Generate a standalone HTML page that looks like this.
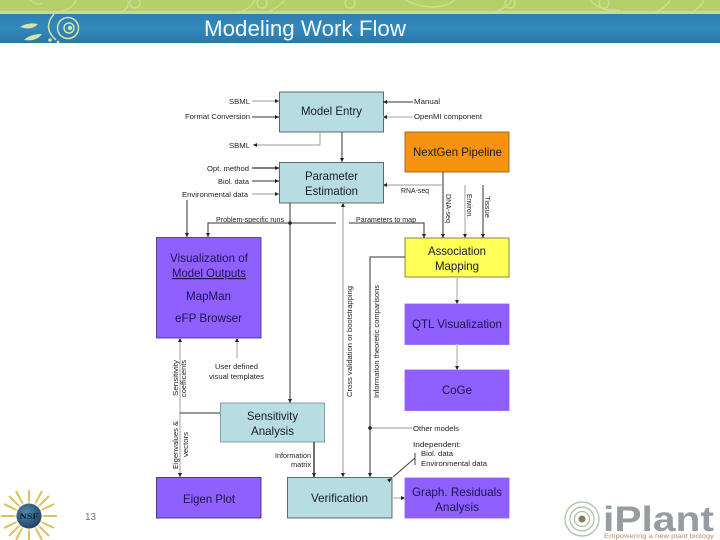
<!DOCTYPE html>
<html><head><meta charset="utf-8"><style>
html,body{margin:0;padding:0;background:#fff;width:720px;height:540px;overflow:hidden}
svg{display:block}
text{font-family:"Liberation Sans",sans-serif}
.l{font-size:7.5px;fill:#222}
.b{font-size:12px;fill:#1a1a2a}
.p{font-size:12px;fill:#1a1450}
.soft{filter:blur(.35px)}
</style></head><body>
<svg width="720" height="540" viewBox="0 0 720 540" xmlns="http://www.w3.org/2000/svg">
<defs>
<linearGradient id="bl" x1="0" y1="0" x2="0" y2="1"><stop offset="0" stop-color="#2f7fb2"/><stop offset="0.5" stop-color="#3288bc"/><stop offset="1" stop-color="#2a77a8"/></linearGradient>
<radialGradient id="gl" cx="0.4" cy="0.35" r="0.7"><stop offset="0" stop-color="#4f8bb0"/><stop offset="1" stop-color="#1d3f60"/></radialGradient>
</defs>
<rect width="720" height="13" fill="#b4d068"/>
<rect y="11" width="720" height="3" fill="#c6de8a"/>
<rect y="14" width="720" height="29" fill="url(#bl)"/>
<g fill="none" stroke="#cfe29a" stroke-width="1.4" opacity=".8">
<path d="M30 0q8 6 12 3M52 13q20-2 24-13M128 0q2 9-8 12M235 13q14-2 20-13M285 0q-10 10-18 12M405 0q30 14 50 0M490 13q15-3 22-13M590 0q10 12 30 10M650 13q14-2 20-13M690 13q10-4 14-13"/>
<circle cx="135" cy="3" r="5"/><circle cx="262" cy="3" r="5"/><circle cx="350" cy="3" r="5"/><circle cx="510" cy="3" r="5"/><circle cx="604" cy="3" r="5"/>
</g>
<g fill="#d6e6a2">
<path d="M20 27q8-5 18-3q-6 7-18 3z"/><path d="M24 40q6-6 18-6q-6 8-18 6z"/>
<circle cx="50" cy="40" r="1.8"/><circle cx="58" cy="42" r="1.4"/>
</g>
<g fill="none" stroke="#d6e6a2" stroke-width="1.5">
<path d="M54 14q-12 14 2 26"/>
<circle cx="68" cy="28" r="10.5"/>
<circle cx="69" cy="28" r="5"/>
</g>
<circle cx="70" cy="28" r="2.2" fill="#d6e6a2"/>
<text x="204" y="36" font-size="22" fill="#f4fafc" textLength="202" lengthAdjust="spacingAndGlyphs">Modeling Work Flow</text>

<g class="soft">
<!-- boxes -->
<g stroke="#3c4a50" stroke-width="0.8">
<rect x="279.500" y="92" width="104" height="40" fill="#b7dde3"/>
<rect x="279.500" y="162.500" width="104" height="40.500" fill="#b7dde3"/>
<rect x="220.500" y="403" width="104" height="39" fill="#b7dde3" stroke="#6d8a90"/>
<rect x="287.500" y="477.500" width="104.500" height="40.500" fill="#b7dde3"/>
<rect x="405" y="132" width="104" height="40" fill="#f7930f" stroke="#8a5a10"/>
<rect x="405" y="238" width="104" height="39" fill="#ffff55" stroke="#6a6a30"/>
<rect x="156.500" y="237.500" width="104.500" height="100.500" fill="#9060ff" stroke="#3c2c70"/>
<rect x="156.500" y="477.500" width="104.500" height="40.500" fill="#9060ff" stroke="#2c2060"/>
<rect x="405" y="304" width="104" height="40.500" fill="#9060ff" stroke="#9060ff"/>
<rect x="405" y="370" width="104" height="40.500" fill="#9060ff" stroke="#9060ff"/>
<rect x="405" y="478" width="104" height="40" fill="#9060ff" stroke="#9060ff"/>
</g>

<!-- dark lines -->
<g fill="none" stroke="#333" stroke-width="1">
<path d="M252 117H279M252 181H279M383 102H413M342 132V162M187 200V237M290 203V403M443 172V238M483 185V238M208 237V223H336M424 238V223H349M405 257H370V477M180 413H220"/>
</g>
<g fill="none" stroke="#999" stroke-width="1">
<path d="M252 101H279M320 132V145H253M252 194H279M383 185H443M343 203V477M370 428H412"/>
</g>
<g fill="none" stroke="#c4c4c4" stroke-width="1.6">
<path d="M383 117H413M465 185V238M180 338V477M237 358V338M457 277V304M457 344V370M392 498H405"/>
</g>
<path d="M180 413H220" stroke="#333" stroke-width="1"/>
<path d="M252 168H279" stroke="#555" stroke-width="1.6"/>
<path d="M314 442V477" stroke="#555" stroke-width="1.7"/>
<path d="M415 458L393 477M415 453V465" stroke="#333" stroke-width="0.9" fill="none"/>

<!-- arrowheads -->
<g fill="#222">
<path d="M279 101l-4-2v4zM279 117l-4-2v4zM279 168l-4-2v4zM279 181l-4-2v4zM279 194l-4-2v4z"/>
<path d="M383 102l4-2v4zM383 117l4-2v4zM383 185l4-2v4zM253 145l4-2v4z"/>
<path d="M342 162l-2-4h4zM187 237l-2-4h4zM208 237l-2-4h4zM424 238l-2-4h4zM443 238l-2-4h4zM465 238l-2-4h4zM483 238l-2-4h4z"/>
<path d="M290 403l-2-4h4zM180 477l-2-4h4zM314 477l-2-4h4zM343 477l-2-4h4zM370 477l-2-4h4zM457 304l-2-4h4zM457 370l-2-4h4z"/>
<path d="M343 203l-2 4h4zM180 338l-2 4h4zM237 338l-2 4h4z"/>
<path d="M405 498l-4-2v4zM392 478l-5 1.500 2.500 3z"/>
<circle cx="290" cy="223" r="1.800"/><circle cx="370" cy="428" r="1.800"/>
</g>

<!-- box labels -->
<text class="b" x="301" y="115" textLength="61" lengthAdjust="spacingAndGlyphs">Model Entry</text>
<text class="b" x="305" y="180" textLength="53" lengthAdjust="spacingAndGlyphs">Parameter</text>
<text class="b" x="305" y="195" textLength="53" lengthAdjust="spacingAndGlyphs">Estimation</text>
<text class="b" x="413" y="156" textLength="89" lengthAdjust="spacingAndGlyphs">NextGen Pipeline</text>
<text class="b" x="428" y="255" textLength="58" lengthAdjust="spacingAndGlyphs">Association</text>
<text class="b" x="435" y="270" textLength="44" lengthAdjust="spacingAndGlyphs">Mapping</text>
<text class="p" x="170" y="262" textLength="78" lengthAdjust="spacingAndGlyphs">Visualization of</text>
<text class="p" x="172" y="277" textLength="74" lengthAdjust="spacingAndGlyphs" text-decoration="underline">Model Outputs</text>
<text class="p" x="186" y="300" textLength="45" lengthAdjust="spacingAndGlyphs">MapMan</text>
<text class="p" x="175" y="322" textLength="67" lengthAdjust="spacingAndGlyphs">eFP Browser</text>
<text class="b" x="247" y="420" textLength="51" lengthAdjust="spacingAndGlyphs">Sensitivity</text>
<text class="b" x="251" y="435" textLength="43" lengthAdjust="spacingAndGlyphs">Analysis</text>
<text class="p" x="183" y="503" textLength="52" lengthAdjust="spacingAndGlyphs">Eigen Plot</text>
<text class="b" x="311" y="502" textLength="57" lengthAdjust="spacingAndGlyphs">Verification</text>
<text class="p" x="412" y="328" textLength="90" lengthAdjust="spacingAndGlyphs">QTL Visualization</text>
<text class="p" x="442" y="394" textLength="30" lengthAdjust="spacingAndGlyphs">CoGe</text>
<text class="p" x="412" y="496" textLength="90" lengthAdjust="spacingAndGlyphs">Graph. Residuals</text>
<text class="p" x="435" y="511" textLength="44" lengthAdjust="spacingAndGlyphs">Analysis</text>

<!-- small labels -->
<text class="l" x="229" y="104" textLength="21" lengthAdjust="spacingAndGlyphs">SBML</text>
<text class="l" x="185" y="119" textLength="65" lengthAdjust="spacingAndGlyphs">Format Conversion</text>
<text class="l" x="229" y="148" textLength="21" lengthAdjust="spacingAndGlyphs">SBML</text>
<text class="l" x="207" y="171" textLength="42" lengthAdjust="spacingAndGlyphs">Opt. method</text>
<text class="l" x="218" y="184" textLength="31" lengthAdjust="spacingAndGlyphs">Biol. data</text>
<text class="l" x="182" y="197" textLength="66" lengthAdjust="spacingAndGlyphs">Environmental data</text>
<text class="l" x="216" y="222" textLength="68" lengthAdjust="spacingAndGlyphs">Problem-specific runs</text>
<text class="l" x="356" y="222" textLength="60" lengthAdjust="spacingAndGlyphs">Parameters to map</text>
<text class="l" x="414" y="104" textLength="26" lengthAdjust="spacingAndGlyphs">Manual</text>
<text class="l" x="414" y="119" textLength="68" lengthAdjust="spacingAndGlyphs">OpenMI component</text>
<text class="l" x="401" y="193" textLength="28" lengthAdjust="spacingAndGlyphs">RNA-seq</text>
<text class="l" transform="translate(446 194) rotate(90)" textLength="29" lengthAdjust="spacingAndGlyphs">DNA-seq</text>
<text class="l" transform="translate(467 194) rotate(90)" textLength="24" lengthAdjust="spacingAndGlyphs">Environ.</text>
<text class="l" transform="translate(485 196) rotate(90)" textLength="22" lengthAdjust="spacingAndGlyphs">Tissue</text>
<text class="l" transform="translate(352 397) rotate(-90)" textLength="111" lengthAdjust="spacingAndGlyphs">Cross validation or bootstrapping</text>
<text class="l" transform="translate(379 398) rotate(-90)" textLength="113" lengthAdjust="spacingAndGlyphs">Information theoretic comparisons</text>
<text class="l" transform="translate(178 396) rotate(-90)" textLength="36" lengthAdjust="spacingAndGlyphs">Sensitivity</text>
<text class="l" transform="translate(186 397) rotate(-90)" textLength="37" lengthAdjust="spacingAndGlyphs">coefficients</text>
<text class="l" transform="translate(178 469) rotate(-90)" textLength="48" lengthAdjust="spacingAndGlyphs">Eigenvalues &amp;</text>
<text class="l" transform="translate(188 457) rotate(-90)" textLength="25" lengthAdjust="spacingAndGlyphs">vectors</text>
<text class="l" x="215" y="369" textLength="43" lengthAdjust="spacingAndGlyphs">User defined</text>
<text class="l" x="209" y="379" textLength="55" lengthAdjust="spacingAndGlyphs">visual templates</text>
<text class="l" x="275" y="458" textLength="36" lengthAdjust="spacingAndGlyphs">Information</text>
<text class="l" x="291" y="467" textLength="20" lengthAdjust="spacingAndGlyphs">matrix</text>
<text class="l" x="413" y="431" textLength="46" lengthAdjust="spacingAndGlyphs">Other models</text>
<text class="l" x="413" y="447" textLength="48" lengthAdjust="spacingAndGlyphs">Independent:</text>
<text class="l" x="421" y="456" textLength="32" lengthAdjust="spacingAndGlyphs">Biol. data</text>
<text class="l" x="421" y="466" textLength="66" lengthAdjust="spacingAndGlyphs">Environmental data</text>
</g>

<!-- NSF logo -->
<g stroke="#d9b94a" stroke-width="2" fill="none" opacity=".9">
<path d="M1 516H57M29 490V540M9 496L49 536M49 496L9 536M16 491L42 540M42 491L16 540M4 504L54 528M54 504L4 528"/>
</g>
<circle cx="29" cy="516" r="15" fill="#fff" opacity=".45"/>
<circle cx="29" cy="516" r="12.500" fill="url(#gl)"/>
<text x="19.500" y="519" font-size="8" font-weight="bold" fill="#0d1a2c" style="font-family:'Liberation Serif',serif" textLength="19" lengthAdjust="spacingAndGlyphs">NSF</text>
<text x="85" y="520" font-size="10" fill="#777">13</text>

<!-- iPlant logo -->
<g fill="none" stroke="#a9bea0" stroke-width="1.2">
<circle cx="582" cy="519" r="17"/><circle cx="582" cy="519" r="12"/><circle cx="582" cy="519" r="7.500"/>
</g>
<circle cx="582" cy="519" r="3.500" fill="#8a7a60"/>
<text x="603" y="531" font-size="35" font-weight="bold" fill="#969c9f" textLength="111" lengthAdjust="spacingAndGlyphs">iPlant</text>
<text x="604" y="538" font-size="6.500" fill="#c08a60" textLength="110" lengthAdjust="spacingAndGlyphs">Empowering a new plant biology</text>
</svg>
</body></html>
